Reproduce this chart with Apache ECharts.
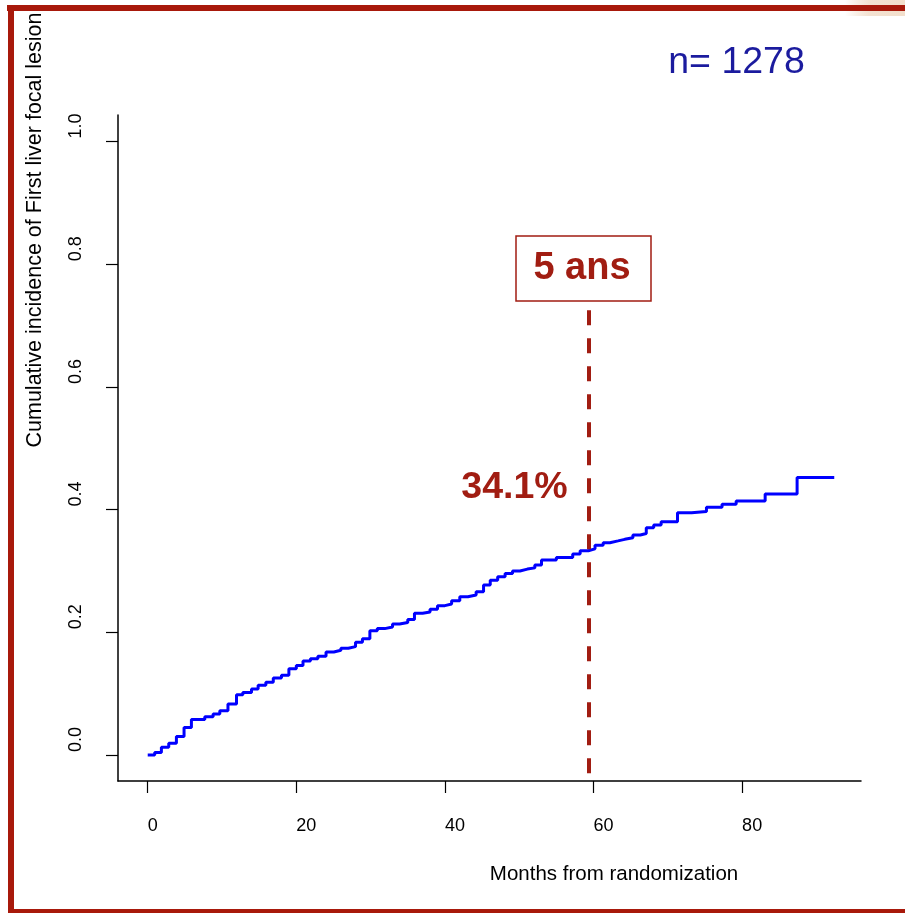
<!DOCTYPE html>
<html><head><meta charset="utf-8">
<script src="https://cdn.jsdelivr.net/npm/echarts@6/dist/echarts.min.js"></script>
<style>html,body{margin:0;padding:0;background:#fff}#c{width:905px;height:913px}</style>
</head><body><div id="c"></div>
<script>
// Step points: time of each jump (months) and new cumulative incidence
const months = [0, 0.94, 1.84, 2.83, 3.86, 4.89, 5.88, 7.68, 8.8, 9.7, 10.8, 11.95, 12.8, 13.97, 14.86, 15.9, 16.9, 18.0, 19.0, 20.0,
  20.9, 21.9, 22.9, 24.0, 25.05, 26.0, 27.0, 27.97, 28.9, 29.9, 30.9, 31.9, 32.95, 33.9, 35.0, 35.9, 37.0, 38.0, 39.0, 40.0,
  40.9, 42.0, 43.1, 44.2, 45.2, 46.1, 47.1, 48.1, 49.1, 50.1, 51.1, 52.1, 53.0, 55.0, 57.2, 58.2, 59.3, 60.2,
  61.3, 62.2, 63.3, 64.2, 65.3, 66.3, 67.1, 68.1, 69.1, 71.3, 73.2, 75.2, 77.3, 79.2, 83.1, 87.4, 92.4];
const incidence = [0, 0.004, 0.0125, 0.019, 0.030, 0.045, 0.058, 0.0625, 0.067, 0.072, 0.083, 0.098, 0.102, 0.1076, 0.1136, 0.1185, 0.1255, 0.130, 0.1407, 0.146,
  0.153, 0.157, 0.161, 0.168, 0.1706, 0.174, 0.1766, 0.1837, 0.1896, 0.2026, 0.206, 0.2086, 0.2135, 0.216, 0.221, 0.231, 0.233, 0.2375, 0.2434, 0.246,
  0.2515, 0.258, 0.2608, 0.266, 0.277, 0.285, 0.2906, 0.296, 0.300, 0.303, 0.305, 0.3097, 0.318, 0.322, 0.3276, 0.333, 0.336, 0.342,
  0.346, 0.349, 0.3515, 0.354, 0.3586, 0.361, 0.3705, 0.375, 0.380, 0.395, 0.397, 0.4037, 0.4086, 0.414, 0.4254, 0.4525, 0.4525];
const xTicks = [0, 20, 40, 60, 80];
const yTicks = [0, 0.2, 0.4, 0.6, 0.8, 1.0];
const fiveYearMonth = 59.4;
const fiveYearLineRange = [0.725, -0.033];
const xTitle = 'Months from randomization';
const yTitle = 'Cumulative incidence of First liver focal lesion';

const RED = '#a11d12';
const BORDER = '#a8190b';
const chart = echarts.init(document.getElementById('c'), null, {renderer: 'canvas'});
const font = 'Liberation Sans, Arial, sans-serif';

chart.setOption({
  animation: false,
  backgroundColor: '#fff',
  grid: {left: 118, right: 44, top: 115, bottom: 132, containLabel: false},
  xAxis: {
    type: 'value', min: -4, max: 96,
    name: xTitle, nameLocation: 'middle', nameGap: 93,
    nameTextStyle: {fontFamily: font, fontSize: 20.5, color: '#000', align: 'center', verticalAlign: 'middle', padding: [0, 0, 0, 249]},
    axisLine: {show: true, onZero: false, lineStyle: {color: '#000', width: 1.5}},
    axisTick: {show: true, inside: false, length: 12, customValues: xTicks, lineStyle: {color: '#000', width: 1.2}},
    axisLabel: {show: true, customValues: xTicks, margin: 36, fontFamily: font, fontSize: 18, color: '#000', align: 'left', verticalAlign: 'top'},
    splitLine: {show: false}
  },
  yAxis: {
    type: 'value', min: -0.0424, max: 1.0432,
    name: yTitle, nameLocation: 'middle', nameGap: 83, nameRotate: 90,
    nameTextStyle: {fontFamily: font, fontSize: 21.5, color: '#000', align: 'center', verticalAlign: 'middle', padding: [0, 0, 0, 436]},
    axisLine: {show: true, onZero: false, lineStyle: {color: '#000', width: 1.5}},
    axisTick: {show: true, inside: false, length: 12, customValues: yTicks, lineStyle: {color: '#000', width: 1.2}},
    axisLabel: {show: true, customValues: yTicks, rotate: 90, margin: 33, fontFamily: font, fontSize: 18, color: '#000',
      align: 'left', verticalAlign: 'bottom', padding: [0, 0, 0, 3],
      formatter: v => v.toFixed(1)},
    splitLine: {show: false}
  },
  series: [{
    type: 'line', step: 'end', showSymbol: false, symbol: 'none',
    data: months.map((m, i) => [m, incidence[i]]),
    lineStyle: {color: '#0000ff', width: 3},
    markLine: {
      silent: true, symbol: 'none', label: {show: false},
      lineStyle: {color: RED, width: 4, type: [15, 13]},
      data: [[{coord: [fiveYearMonth, fiveYearLineRange[0]]}, {coord: [fiveYearMonth, fiveYearLineRange[1]]}]]
    }
  }],
  graphic: [
    {type: 'rect', shape: {x: 845, y: 0, width: 60, height: 16}, style: {fill: new echarts.graphic.LinearGradient(0, 0, 1, 0, [{offset: 0, color: 'rgba(240,220,200,0)'}, {offset: 0.4, color: '#f3e2d2'}, {offset: 1, color: '#f2dfcc'}])}, z: 0},
    {type: 'rect', shape: {x: 7, y: 5, width: 898, height: 6}, style: {fill: BORDER}, z: 10},
    {type: 'rect', shape: {x: 8, y: 5, width: 6, height: 908}, style: {fill: BORDER}, z: 10},
    {type: 'rect', shape: {x: 8, y: 909, width: 897, height: 4}, style: {fill: BORDER}, z: 10},
    {type: 'text', x: 736.5, y: 63, style: {text: 'n= 1278', fontFamily: font, fontSize: 37.5, fill: '#1b1b9e', align: 'center', verticalAlign: 'middle'}, z: 10},
    {type: 'rect', shape: {x: 516, y: 236, width: 135, height: 65}, style: {fill: '#fff', stroke: RED, lineWidth: 1.5}, z: 10},
    {type: 'text', x: 582, y: 269, style: {text: '5 ans', fontFamily: font, fontSize: 38, fontWeight: 'bold', fill: RED, align: 'center', verticalAlign: 'middle'}, z: 11},
    {type: 'text', x: 514.5, y: 488, style: {text: '34.1%', fontFamily: font, fontSize: 37.5, fontWeight: 'bold', fill: RED, align: 'center', verticalAlign: 'middle'}, z: 10}
  ]
});
</script></body></html>
